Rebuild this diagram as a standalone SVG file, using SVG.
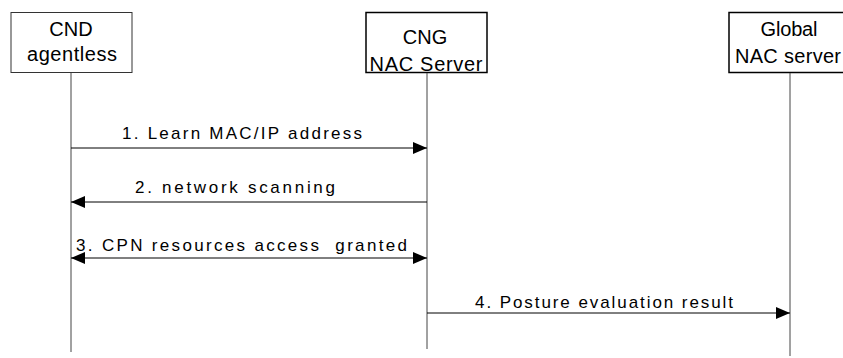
<svg xmlns="http://www.w3.org/2000/svg" width="843" height="358" viewBox="0 0 843 358">
<style>
.box{fill:#fff;stroke:#000;stroke-width:1.5}
.life{stroke:#444;stroke-width:1}
.msg{stroke:#000;stroke-width:1;fill:none}
.t{font-family:"Liberation Sans",Arial,sans-serif;fill:#000}
.bt{font-size:20px;text-anchor:middle}
.lt{font-size:17px}
</style>
<defs>
<marker id="ah" viewBox="0 0 14 12" refX="14" refY="6" markerWidth="14" markerHeight="12" markerUnits="userSpaceOnUse" orient="auto-start-reverse">
<path d="M0,0 L14,6 L0,12 z" fill="#000"/>
</marker>
</defs>
<g id="cnd">
<rect class="box" x="11" y="12.5" width="121" height="60" style="stroke:#333;stroke-width:1"/>
<text class="t bt" x="71" y="36">CND</text>
<text class="t bt" x="72" y="61" textLength="90" lengthAdjust="spacing">agentless</text>
<line class="life" x1="71" y1="73" x2="71" y2="352"/>
</g>
<g id="cng">
<rect class="box" x="366" y="12.5" width="121" height="60"/>
<text class="t bt" x="425" y="44">CNG</text>
<text class="t bt" x="426" y="71" textLength="113" lengthAdjust="spacing">NAC Server</text>
<line class="life" x1="427" y1="73" x2="427" y2="349"/>
</g>
<g id="global">
<rect class="box" x="729" y="12.5" width="130" height="60"/>
<text class="t bt" x="789" y="36" textLength="57" lengthAdjust="spacing">Global</text>
<text class="t bt" x="788" y="63" textLength="106" lengthAdjust="spacing">NAC server</text>
<line class="life" x1="790" y1="73" x2="790" y2="356"/>
</g>
<g id="connectors">
<line class="msg" x1="71" y1="148" x2="427" y2="148" marker-end="url(#ah)"/>
<text class="t lt" x="122" y="139" textLength="240" lengthAdjust="spacing">1. Learn MAC/IP address</text>
<line class="msg" x1="427" y1="202" x2="71" y2="202" marker-end="url(#ah)"/>
<text class="t lt" x="135" y="193" textLength="200" lengthAdjust="spacing">2. network scanning</text>
<line class="msg" x1="71" y1="258" x2="427" y2="258" marker-start="url(#ah)" marker-end="url(#ah)"/>
<text class="t lt" x="76" y="251" textLength="331" lengthAdjust="spacing" xml:space="preserve">3. CPN resources access  granted</text>
<line class="msg" x1="427" y1="313" x2="790" y2="313" marker-end="url(#ah)"/>
<text class="t lt" x="475" y="308" textLength="258" lengthAdjust="spacing">4. Posture evaluation result</text>
</g>
</svg>
